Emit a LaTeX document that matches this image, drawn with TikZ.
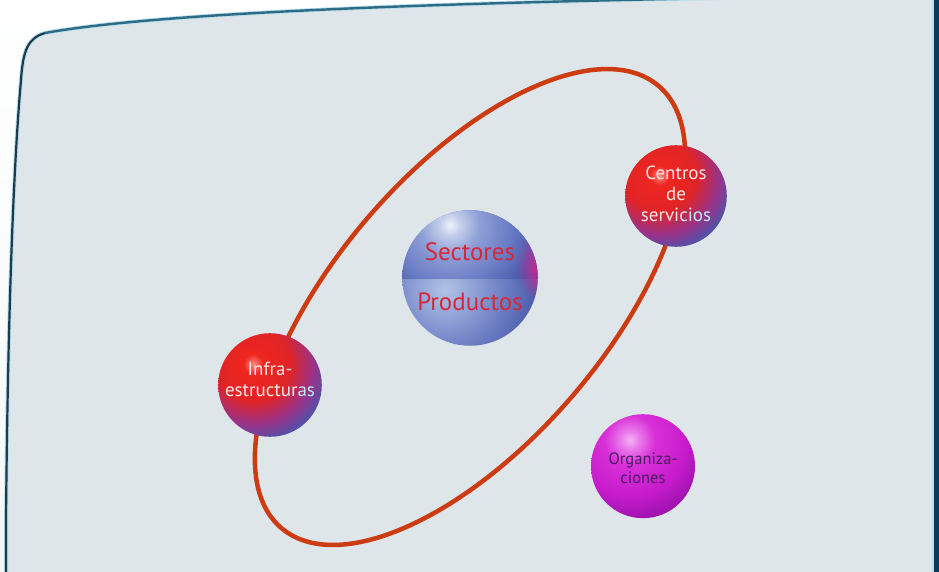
\documentclass[tikz,border=0pt]{standalone}
\usepackage{fontspec}
\setmainfont{PT Sans}
\usetikzlibrary{fadings}
\definecolor{panelbg}{HTML}{DFE6E9}
\definecolor{outbg}{HTML}{F4F7F8}
\definecolor{edgedark}{HTML}{1C3C4E}
\definecolor{edgeteal}{HTML}{2E6C84}
\definecolor{edgeglow}{HTML}{B4DDEE}
\definecolor{barblue}{HTML}{0B3A58}
\definecolor{orbitcol}{HTML}{CC3B12}
\definecolor{rhi}{HTML}{FF8A80}
\definecolor{rred}{HTML}{EE2620}
\definecolor{rred2}{HTML}{E02426}
\definecolor{rpurp}{HTML}{9A3288}
\definecolor{rblue}{HTML}{5450A8}
\definecolor{tA}{HTML}{EEF2FA}
\definecolor{tB}{HTML}{C6D0EC}
\definecolor{tC}{HTML}{8E9ED6}
\definecolor{tD}{HTML}{6A7CC4}
\definecolor{tE}{HTML}{4C5CAE}
\definecolor{tF}{HTML}{3C4C9E}
\definecolor{uA}{HTML}{B2C2E6}
\definecolor{uB}{HTML}{9AACDC}
\definecolor{uC}{HTML}{7688C8}
\definecolor{uD}{HTML}{5668B4}
\definecolor{uE}{HTML}{3E4EA0}
\definecolor{mA}{HTML}{F4B4F4}
\definecolor{mB}{HTML}{EC80EC}
\definecolor{mC}{HTML}{D830D8}
\definecolor{mD}{HTML}{C81CCC}
\definecolor{mE}{HTML}{A614B4}
\definecolor{mF}{HTML}{9A10AA}
\definecolor{glowmag}{HTML}{E0208C}
\definecolor{sectxt}{HTML}{D62838}
\definecolor{whtxt}{HTML}{F6E6E6}
\definecolor{cyantxt}{HTML}{B8EEF8}
\definecolor{orgtxt}{HTML}{4A1C64}
\pgfdeclareradialshading{redball}{\pgfpoint{0bp}{0bp}}{color(0bp)=(rhi); color(3bp)=(rred); color(11bp)=(rred2); color(18bp)=(rpurp); color(23bp)=(rblue); color(50bp)=(rblue)}
\pgfdeclareradialshading{sectop}{\pgfpoint{0bp}{0bp}}{color(0bp)=(tA); color(2.25bp)=(tB); color(6.8bp)=(tC); color(13.6bp)=(tD); color(19.3bp)=(tE); color(25bp)=(tF); color(50bp)=(tF)}
\pgfdeclareradialshading{secbot}{\pgfpoint{0bp}{0bp}}{color(0bp)=(uA); color(4.5bp)=(uB); color(11.4bp)=(uC); color(18.2bp)=(uD); color(25bp)=(uE); color(50bp)=(uE)}
\pgfdeclareradialshading{magball}{\pgfpoint{0bp}{0bp}}{color(0bp)=(mA); color(2.4bp)=(mB); color(7.4bp)=(mC); color(16.2bp)=(mD); color(22bp)=(mE); color(25bp)=(mF); color(50bp)=(mF)}
\tikzfading[name=softglow, inner color=transparent!0, outer color=transparent!100]
\begin{document}
\begin{tikzpicture}[x=1bp,y=1bp,
  redsphere/.style={circle, inner sep=0pt, minimum size=2*#1,
    path picture={\shade[shading=redball] ([shift={(-0.32*#1,0.4*#1)}]path picture bounding box.center) circle (1.6*#1);}},
  anchorsphere/.style={circle, inner sep=0pt, minimum size=2*#1},
  secsphere/.style={circle, inner sep=0pt, minimum size=136,
    path picture={
      \shade[shading=secbot] ([shift={(-25,-12)}]path picture bounding box.center) circle (110);
      \begin{scope}
        \clip ([shift={(-80,0)}]path picture bounding box.center) rectangle ([shift={(80,80)}]path picture bounding box.center);
        \shade[shading=sectop] ([shift={(-20,53)}]path picture bounding box.center) circle (110);
      \end{scope}
      \fill[glowmag, path fading=softglow] ([shift={(72,12)}]path picture bounding box.center) ellipse [x radius=26, y radius=36];
    }},
  smalltxt/.style={font=\fontsize{19bp}{21bp}\selectfont, align=center, text=whtxt, inner sep=0pt},
  orgtext/.style={font=\fontsize{16.5bp}{19bp}\selectfont, text=orgtxt, inner sep=0pt, anchor=base},
  bigtxt/.style={font=\fontsize{25bp}{28bp}\selectfont, text=sectxt, inner sep=0pt, anchor=base},
  orbit/.style={draw=orbitcol, line width=4.5bp}]
\useasboundingbox (0,0) rectangle (939,-572);
% outside background
\shade[top color=white, bottom color=outbg] (0,0) rectangle (939,-572);
% panel
\fill[panelbg] (6,-580) -- (6,-520) .. controls (8,-300) and (14,-160) .. (21,-80)
  .. controls (23,-50) and (28,-38) .. (45,-33)
  .. controls (150,-14) and (400,-4) .. (720,2) -- (945,2) -- (945,-580) -- cycle;
\draw[edgeglow, line width=4bp] (6,-580) -- (6,-520) .. controls (8,-300) and (14,-160) .. (21,-80)
  .. controls (23,-50) and (28,-38) .. (45,-33)
  .. controls (150,-14) and (400,-4) .. (720,2);
\draw[edgedark, line width=2.2bp] (6,-580) -- (6,-520) .. controls (8,-300) and (14,-160) .. (21,-80)
  .. controls (23,-50) and (28,-38) .. (45,-33);
\draw[edgeteal, line width=2.4bp] (45,-33) .. controls (150,-14) and (400,-4) .. (720,2);
% right bar
\fill[edgeglow] (931.5,0) rectangle (933.5,-572);
\fill[barblue] (933.5,0) rectangle (939,-572);
% orbit
\coordinate (oc) at (470,-307);
\draw[orbit, rotate around={49.5:(oc)}] (oc) ellipse [x radius=290.6, y radius=135.7];
% central sphere
\node[secsphere] (sec) at (470,-278) {};
\node[bigtxt] (st) at (470,-261) {Sectores};
\node[bigtxt] (pr) at (470,-310) {Productos};
% red spheres
\node[redsphere=51] (cen) at (676,-196) {};
\node[smalltxt] (cent) at (676,-194) {Centros\\de\\servi\textcolor{cyantxt!40!whtxt}{c}\textcolor{cyantxt!70!whtxt}{i}\textcolor{cyantxt}{os}};
\node[redsphere=52] (inf) at (270,-385) {};
\node[smalltxt] (inft) at (270,-379) {Infra-\\estructur\textcolor{cyantxt}{as}};
% magenta sphere
\node[anchorsphere=52] (org) at (643,-466) {};
\begin{scope}
  \clip ([yshift=52]org.center) arc[start angle=90, end angle=450, radius=52] -- cycle;
  \shade[shading=magball] ([shift={(-13,26)}]org.center) circle (85);
\end{scope}
\node[orgtext] (orgt1) at (643,-464) {Organiza-};
\node[orgtext] (orgt2) at (643,-483) {ciones};
\end{tikzpicture}
\end{document}
